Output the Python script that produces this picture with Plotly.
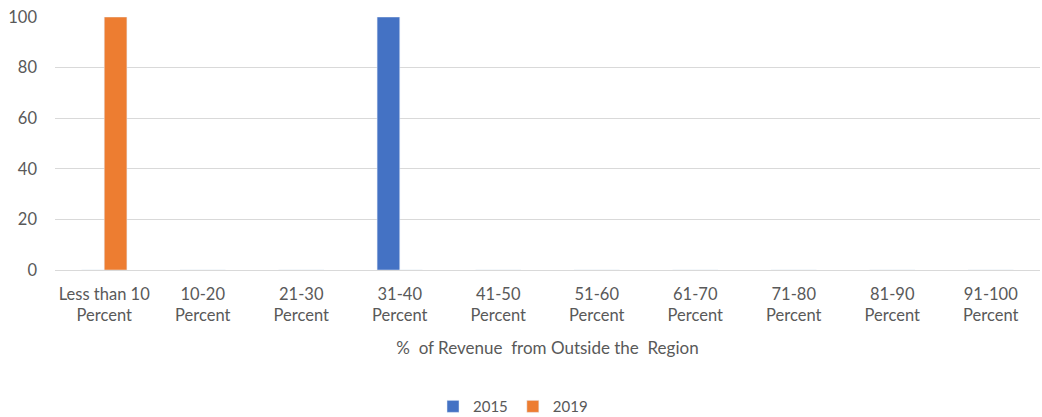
import plotly.graph_objects as go

categories = ["Less than 10<br>Percent", "10-20<br>Percent", "21-30<br>Percent", "31-40<br>Percent",
              "41-50<br>Percent", "51-60<br>Percent", "61-70<br>Percent", "71-80<br>Percent",
              "81-90<br>Percent", "91-100<br>Percent"]
values_2015 = [0, 0, 0, 100, 0, 0, 0, 0, 0, 0]
values_2019 = [100, 0, 0, 0, 0, 0, 0, 0, 0, 0]
y_ticks = [0, 20, 40, 60, 80, 100]

font_fam = "Lato, 'Open Sans', sans-serif"
grey = "#595959"

fig = go.Figure()
fig.add_trace(go.Bar(x=categories, y=values_2015, name="2015", marker_color="#4472C4"))
fig.add_trace(go.Bar(x=categories, y=values_2019, name="2019", marker_color="#ED7D31"))

fig.update_layout(
    width=1042, height=417,
    margin=dict(l=55, r=2, t=17, b=147, autoexpand=False),
    paper_bgcolor="white", plot_bgcolor="white",
    barmode="group", bargap=0.54, bargroupgap=0,
    font=dict(family=font_fam, size=16.5, color=grey),
    showlegend=True,
    legend=dict(orientation="h", x=0.465, xanchor="center", y=-0.54, yanchor="middle",
                font=dict(size=15, color=grey), itemwidth=30, traceorder="normal",
                tracegroupgap=0),
    xaxis=dict(title=dict(text="%  of Revenue  from Outside the  Region", font=dict(size=17, color=grey), standoff=18),
               tickfont=dict(size=16.5, color=grey), showgrid=False, showline=False, ticks="",
               ticklabelstandoff=12, automargin=False),
    yaxis=dict(range=[0, 100], tickvals=y_ticks, tickfont=dict(size=16.5, color=grey),
               gridcolor="#D9D9D9", gridwidth=1, zeroline=True, zerolinecolor="#D9D9D9",
               zerolinewidth=1, showline=False, ticks="", ticklabelstandoff=17, automargin=False),
)

fig.write_html("out.html")
